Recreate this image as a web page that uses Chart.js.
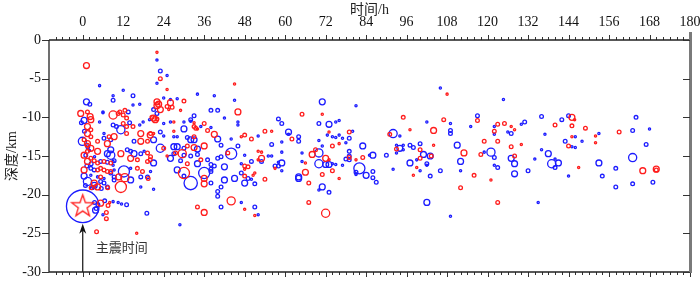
<!DOCTYPE html>
<html>
<head>
<meta charset="utf-8">
<script src="https://cdn.jsdelivr.net/npm/chart.js@4.4.0/dist/chart.umd.min.js"></script>
<style>
  html, body { margin: 0; padding: 0; background: #fff; overflow: hidden; }
  canvas { display: block; }
</style>
</head>
<body>
<canvas id="chart" width="700" height="281"></canvas>
<script>
// time (h), depth (km), magnitude
const xTicks = [0, 12, 24, 36, 48, 60, 72, 84, 96, 108, 120, 132, 144, 156, 168, 180];
const yTicks = [0, -5, -10, -15, -20, -25, -30];
const mainShock = [0, -21.5, 5.0];

const blueEvents = [
  // > 130 h
  [136,-9.9,1.1],[142,-10.3,1.1],[144,-9.8,1.1],[164,-10.0,1.1],[163,-11.7,1.1],[168,-11.5,0.9],[137,-12.2,0.9],
  [153,-12.1,0.9],[146,-12.5,0.9],[143,-13.1,1.1],[148,-13.1,0.9],[145,-13.8,0.9],[146,-13.9,0.9],[167,-13.5,1.1],
  [136,-14.2,0.9],[138,-14.7,1.4],[134,-15.4,0.9],[139,-16.0,1.7],[141,-15.9,1.4],[140,-16.5,1.1],[140,-15.4,0.9],
  [153,-15.9,1.4],[158,-16.6,1.1],[154,-17.6,1.1],[144,-17.6,0.9],[163,-15.2,1.7],[158,-19.0,1.1],[163,-18.6,1.1],
  [169,-18.4,1.1],[135,-21.0,0.9],
  // 112 - 133 h
  [124.7,-7.7,0.9],[117,-9.8,1.1],[115,-11.2,0.9],[122,-11.2,0.9],[122,-12.2,0.9],[126,-11.9,0.9],[127,-12.1,1.1],
  [131,-10.6,1.1],[130,-10.9,0.9],[121,-14.5,1.7],[119,-14.5,0.9],[122,-15.2,1.1],[127,-15.3,1.4],[128,-16.0,1.4],
  [122,-16.2,0.9],[123,-16.5,1.1],[112,-15.7,1.4],[112,-16.9,0.9],[128,-17.3,1.4],[132,-16.9,1.1],
  // 90 - 111 h
  [106,-6.2,0.9],[102,-10.6,0.9],[109,-10.8,0.9],[109,-11.7,1.1],[109,-12.1,1.1],[92,-12.1,1.7],[94,-12.4,0.9],
  [93,-13.6,0.9],[95,-13.6,0.9],[94,-14.0,1.4],[95,-14.2,0.9],[93,-14.6,0.9],[97,-13.6,1.1],[98,-13.9,1.1],
  [100,-13.4,1.1],[101,-14.8,1.4],[103,-15.0,1.4],[99,-15.5,0.9],[97,-15.9,1.4],[100,-16.9,0.9],[102,-16.0,1.1],
  [102,-16.2,0.9],[92,-16.7,0.9],[103,-17.6,1.1],[106,-16.9,1.1],[111,-13.6,1.4],[102,-21.0,1.4],[109,-22.8,0.9],
  // 50 - 90 h
  [71,-8.0,1.4],[81,-8.5,0.9],[58,-10.2,1.1],[59,-10.8,1.1],[70,-10.8,1.1],[73,-10.9,1.4],[75,-10.6,0.9],
  [76,-10.4,0.9],[61,-11.9,1.4],[61,-12.2,0.9],[52,-12.4,0.9],[64,-12.5,1.1],[64,-13.1,1.1],[72.5,-12.3,0.9],
  [74,-12.5,0.9],[75,-12.6,0.9],[76,-12.3,0.9],[80,-11.8,0.9],[79,-12.7,1.1],[77,-12.7,0.9],[78,-13.3,0.9],
  [56,-13.5,1.1],[59,-13.2,0.9],[70,-13.0,0.9],[71,-13.7,0.9],[83,-13.7,1.4],[79,-14.4,1.1],[59,-14.5,0.9],
  [56,-15.0,0.9],[70,-14.6,1.7],[65,-14.6,0.9],[50,-15.7,1.1],[53,-15.7,1.1],[55,-15.0,0.9],[59,-15.9,1.4],
  [58,-15.8,0.9],[57,-16.3,1.1],[58,-16.3,1.1],[59,-16.9,0.9],[65,-15.7,0.9],[70,-16.0,1.7],[72,-16.1,1.4],
  [73,-16.1,1.4],[74,-16.0,0.9],[75,-16.1,0.9],[77,-16.2,0.9],[78,-15.4,1.1],[79,-15.5,1.1],[79,-15.0,1.1],
  [85,-14.9,0.9],[86,-14.9,1.4],[82,-16.6,2.1],[81,-17.1,1.1],[84,-17.5,1.4],[81,-17.4,0.9],[86,-17.0,1.1],
  [86,-17.8,1.1],[87,-18.4,1.1],[90,-14.9,1.1],[64,-17.7,1.4],[64,-17.9,1.4],[71,-19.0,1.4],[70,-19.4,0.9],
  [73,-19.7,1.1],[51,-18.6,1.1],[50,-18.0,0.9],[51,-21.6,1.1],[52,-22.6,0.9],
  // 20 - 50 h
  [22,-2.6,0.9],[23,-4.0,1.1],[25,-4.6,0.9],[22,-5.6,0.9],[34,-7.0,0.9],[39,-7.2,0.9],[45,-7.8,0.9],[28,-7.6,0.9],
  [26,-7.7,0.9],[24,-7.5,0.9],[21,-9.0,1.1],[38,-9.1,1.1],[40,-9.1,1.1],[33,-9.8,1.1],[42,-10.1,0.9],[22,-9.5,1.1],
  [26,-10.6,0.9],[30,-10.6,0.9],[32,-10.5,0.9],[24,-10.8,0.9],[32,-10.3,1.1],[35,-11.2,0.9],[30,-11.5,1.4],
  [38,-11.3,0.9],[23,-11.9,1.1],[46,-11.0,0.9],[46,-10.6,0.9],[44,-12.8,0.9],[21,-12.9,1.4],[24,-12.4,0.9],
  [27,-12.5,0.9],[28,-12.5,0.9],[31,-12.6,1.1],[32,-12.9,1.4],[33,-12.9,1.4],[40,-12.8,1.4],[23,-14.0,1.7],
  [27,-13.8,1.4],[28,-13.8,1.4],[30,-14.0,1.1],[34,-14.1,1.4],[41,-13.6,1.1],[46,-13.7,1.1],[44,-14.7,2.1],
  [48,-14.9,0.9],[41,-15.1,1.1],[40,-15.3,1.1],[27,-14.7,1.1],[30,-14.9,1.1],[32,-15.0,1.1],[34,-14.8,1.1],
  [26,-15.3,1.4],[21,-15.9,1.4],[29,-15.6,1.1],[34,-16.0,1.4],[37,-15.5,1.1],[38,-16.1,1.1],[38,-16.7,1.1],
  [39,-16.3,1.1],[38,-17.0,1.1],[42,-16.4,1.4],[47,-16.0,0.9],[28,-16.8,1.4],[30,-17.6,1.1],[32,-18.5,2.4],
  [36,-17.2,2.1],[38,-18.5,1.1],[42,-18.1,1.4],[45,-17.9,1.4],[48,-18.5,1.4],[47,-17.2,1.1],[49,-17.9,1.1],
  [41,-19.0,1.1],[40,-19.6,1.1],[40,-20.2,1.1],[21,-19.3,0.9],[47,-21.0,0.9],[41,-21.6,1.1],[28.8,-23.9,0.9],
  // 0 - 20 h
  [5,-5.9,0.9],[9,-7.2,0.9],[12,-6.5,0.9],[14.9,-7.2,1.1],[16.9,-8.3,0.9],[14.9,-8.4,0.9],[1.1,-8.0,1.4],
  [2.1,-8.3,1.1],[6,-9.4,0.9],[0.4,-10.4,1.4],[5,-10.6,0.9],[9,-11.0,1.1],[10,-11.2,1.1],[13.9,-10.7,1.1],
  [16.9,-11.0,0.9],[17.9,-10.6,0.9],[19.8,-10.3,0.9],[-0.1,-13.1,1.7],[11.3,-11.6,1.7],[6.3,-12.1,0.9],
  [6.3,-12.7,1.1],[15.2,-13.1,1.1],[8.3,-12.9,1.1],[8.3,-14.2,1.4],[7.3,-14.7,1.4],[8.3,-14.9,1.7],
  [13.2,-14.2,1.1],[14.2,-14.4,1.1],[15.2,-14.7,1.4],[17.2,-14.7,1.1],[18.2,-14.4,0.9],[9.3,-16.8,0.9],
  [12.2,-17.0,2.1],[14.2,-16.6,0.9],[17.2,-17.7,1.1],[19.2,-17.7,1.1],[20.1,-17.0,0.9],[2.4,-17.5,0.9],
  [4.4,-17.7,0.9],[6.3,-17.9,0.9],[8.3,-17.2,1.1],[9.3,-17.7,1.1],[1.4,-18.3,1.7],[5.3,-18.3,1.1],[6.3,-18.5,1.1],
  [9.3,-18.1,1.1],[14.2,-18.1,1.4],[17.2,-19.0,0.9],[2.4,-16.6,1.1],[3.4,-16.8,1.1],[-0.4,-10.7,1.1],
  [0.5,-11.8,1.1],[1.5,-13.8,1.1],[2.0,-14.3,0.9],[3.5,-15.1,0.9],[2.5,-16.0,1.1],[1.2,-16.3,1.1],[0.8,-18.8,1.1],
  [2.8,-19.1,1.1],[3.5,-18.9,0.9],[3.4,-18.8,1.4],[0.4,-17.6,1.4],[0.9,-14.9,1.1],[5.5,-19.2,1.1],[7.3,-19.0,1.1],
  [9,-15.7,0.9],[9,-16.2,0.9],[5.3,-15.7,1.1],[7.3,-15.8,1.1],[9.3,-15.6,1.1],[13.5,-9.3,1.1],[9,-7.8,1.1],
  [6,-9.3,0.9],
  // around main shock
  [3.5,-21.0,1.1],[4.5,-21.3,1.1],[4.0,-21.8,1.1],[3.8,-22.0,1.4],[6.5,-20.8,1.1],[9,-20.9,0.9],[10.5,-21.0,0.9],
  [11.5,-21.2,0.9],[13,-21.3,1.1],[6,-22.6,0.9],[19,-22.4,1.1]
];

const redEvents = [
  // > 112 h
  [145,-10.0,1.4],[145.8,-10.3,0.9],[140,-11.0,1.1],[145,-11.1,1.1],[149,-11.4,1.1],[159,-11.9,1.1],[152,-12.4,0.9],
  [145,-12.5,0.9],[152,-13.3,0.9],[144,-13.7,1.1],[147,-16.5,0.9],[166,-16.9,1.4],[170,-16.7,1.4],[170,-16.8,1.1],
  [117,-10.4,1.1],[122,-11.8,1.1],[123,-10.9,1.1],[125,-10.8,1.1],[127,-11.2,0.9],[128,-11.6,0.9],[119,-13.1,1.1],
  [123,-13.1,1.1],[113,-14.6,1.4],[118,-14.8,1.1],[127,-13.8,1.1],[130,-13.5,0.9],[128,-15.0,1.1],[116,-17.5,1.1],
  [112,-19.1,1.1],[121,-18.1,0.9],[123,-21.0,1.1],
  // 90 - 111 h
  [108,-7.0,0.9],[95,-10.0,1.1],[107,-10.3,1.1],[104,-11.7,1.4],[97,-11.6,0.9],[93,-14.1,1.1],[100,-14.2,1.1],
  [100,-15.3,1.1],[103.3,-15.0,1.1],[104,-13.6,0.9],[99,-16.5,0.9],[98,-17.5,0.9],[91,-12.2,1.1],
  // 50 - 90 h
  [65,-9.6,1.1],[71,-9.6,0.9],[54,-11.8,1.1],[56,-11.8,0.9],[50,-12.8,1.1],[62,-12.8,1.1],[73,-11.9,0.9],
  [79,-11.9,1.1],[76,-13.4,0.9],[74,-13.7,1.1],[52,-14.4,0.9],[53,-14.5,0.9],[69,-14.2,1.1],[68,-14.8,1.4],
  [72,-15.3,1.4],[73,-15.5,0.9],[53,-15.3,1.4],[52,-15.5,0.9],[66,-15.9,0.9],[79,-15.2,1.1],[81,-15.5,0.9],
  [83,-15.2,1.1],[57,-16.6,0.9],[66,-17.1,1.4],[67,-18.5,1.1],[71,-17.4,1.1],[74,-16.9,1.1],[76,-17.9,0.9],
  [54,-18.0,1.1],[50.5,-17.5,0.9],[67,-21.0,1.1],[72,-22.4,1.7],[51,-22.7,0.9],[47,-12.5,0.9],
  // 20 - 50 h
  [22,-1.6,0.9],[23,-5.0,1.1],[45,-5.7,0.9],[25,-6.4,0.9],[30,-7.9,1.1],[22,-8.0,1.4],[22.5,-8.3,1.4],[22,-8.5,1.4],
  [26,-8.1,1.4],[25,-8.6,1.1],[26.5,-8.7,1.1],[23,-9.0,1.4],[25.5,-9.0,0.9],[29,-9.1,0.9],[46,-9.3,1.4],
  [21,-10.1,1.4],[21.5,-10.3,1.4],[20.5,-10.0,1.1],[22,-10.2,1.1],[27,-10.6,0.9],[33,-10.7,0.9],[36,-10.8,1.1],
  [34,-11.5,0.9],[33,-11.2,1.1],[33.5,-11.4,1.1],[37,-11.7,1.1],[39,-12.2,1.4],[27,-11.8,0.9],[21,-12.1,0.9],
  [48,-12.3,1.1],[20,-12.3,1.4],[33,-12.5,1.1],[24,-14.0,1.1],[31,-13.7,1.1],[33,-13.9,1.4],[36,-13.7,1.4],
  [43,-14.6,1.1],[29.5,-14.7,1.7],[27.5,-14.6,1.1],[35,-15.5,1.1],[25,-15.0,0.9],[20,-15.5,1.1],[31,-16.0,1.1],
  [48,-16.3,1.1],[49,-16.4,1.1],[48,-16.7,0.9],[30,-17.2,2.1],[36,-17.9,1.4],[36,-18.6,1.4],[48,-17.6,1.1],
  [51,-17.2,0.9],[44,-20.8,1.7],[34,-21.6,1.1],[36,-22.3,1.4],[48,-21.9,0.9],
  // 0 - 20 h
  [-0.6,-9.5,1.4],[1.4,-9.3,1.1],[2.2,-9.9,1.4],[2.4,-10.3,1.4],[9,-9.7,1.7],[11,-9.3,1.1],[12,-9.7,1.1],
  [13,-10.1,1.1],[12,-10.8,1.1],[13,-11.2,1.1],[14.9,-11.2,1.1],[1.4,-11.2,1.4],[2.4,-11.6,1.1],[1.4,-12.1,1.4],
  [2.4,-12.5,1.1],[0.4,-12.9,1.1],[1.4,-13.4,1.4],[13,-12.1,1.1],[7.8,-12.5,1.1],[9.3,-12.5,1.4],[20.1,-12.1,1.1],
  [17.2,-12.1,1.4],[17.2,-13.1,1.4],[19.2,-13.1,1.1],[4.4,-13.1,1.1],[1.4,-13.6,1.1],[2.4,-14.0,1.4],
  [1.4,-14.4,1.1],[0.4,-14.9,1.4],[2.4,-15.3,1.1],[1.4,-15.7,1.4],[7.3,-13.4,1.4],[4.4,-14.4,1.4],[11.3,-14.7,1.4],
  [14.2,-15.3,1.4],[19.2,-14.6,1.1],[20.1,-15.1,1.1],[16.2,-15.5,1.1],[19.2,-15.7,1.1],[3.4,-15.6,1.1],
  [4.4,-15.9,1.1],[6.3,-15.7,1.1],[8.3,-15.9,1.1],[0.4,-16.8,1.4],[4.4,-16.8,1.1],[5.3,-16.6,1.1],[6.3,-16.8,1.1],
  [7.3,-17.0,1.1],[8.3,-17.0,1.1],[16.2,-16.6,1.1],[17.7,-17.0,1.1],[5.3,-17.7,1.1],[3.4,-18.5,1.4],
  [4.4,-19.0,1.4],[11.3,-19.0,2.1],[19.4,-17.9,1.1],[2.5,-19.1,1.1],[7.4,-19.1,1.1],[10.7,-17.7,1.4],
  [12.5,-17.8,1.7],[1.1,-3.3,1.4],[10.5,-9.5,1.1],[12.5,-9.1,1.1],
  // around main shock
  [5.3,-21.1,1.4],[7,-22.3,1.1],[7,-23.1,1.1],[4.1,-24.8,1.1],[16,-25.0,0.9],[8,-21.0,0.9],[7.5,-21.4,1.1]
];

const BLUE = '#1c1cff';
const RED = '#ff1c1c';
const SERIF = '"Liberation Serif", "Noto Sans CJK SC", serif';

function radiusOf(m) { return Math.max(1, 3.7 * (m - 0.6)); }
function toPoints(list) { return list.map(e => ({ x: e[0], y: e[1], m: e[2] })); }

// five-pointed star outline for the main shock
function starImage(rOut) {
  const c = document.createElement('canvas');
  const s = Math.ceil(rOut * 2 + 4);
  c.width = s; c.height = s;
  const g = c.getContext('2d');
  const rIn = rOut * 0.4;
  g.beginPath();
  for (let i = 0; i < 10; i++) {
    const r = i % 2 ? rIn : rOut;
    const a = -Math.PI / 2 + i * Math.PI / 5;
    const px = s / 2 + r * Math.cos(a), py = s / 2 + r * Math.sin(a);
    if (i === 0) g.moveTo(px, py); else g.lineTo(px, py);
  }
  g.closePath();
  g.strokeStyle = RED;
  g.lineWidth = 1.3;
  g.stroke();
  return c;
}

const frame = {
  id: 'frame',
  afterDatasetsDraw(chart) {
    const { ctx, chartArea: a, scales: { x, y } } = chart;
    // arrow to main shock
    const ax = x.getPixelForValue(mainShock[0]);
    const tipY = y.getPixelForValue(mainShock[1]) + 17.5;
    ctx.save();
    ctx.strokeStyle = '#111';
    ctx.fillStyle = '#111';
    ctx.lineWidth = 1.2;
    ctx.beginPath();
    ctx.moveTo(ax, a.bottom);
    ctx.lineTo(ax, tipY + 6);
    ctx.stroke();
    ctx.beginPath();
    ctx.moveTo(ax, tipY);
    ctx.lineTo(ax - 3.5, tipY + 10);
    ctx.lineTo(ax, tipY + 7);
    ctx.lineTo(ax + 3.5, tipY + 10);
    ctx.closePath();
    ctx.fill();
    ctx.font = '13px "Noto Sans CJK SC", sans-serif';
    ctx.fillStyle = '#333';
    ctx.textBaseline = 'middle';
    ctx.fillText('主震时间', ax + 13, y.getPixelForValue(-26.8));
    ctx.restore();
  },
  afterDraw(chart) {
    const { ctx, chartArea: a, scales: { x, y } } = chart;
    ctx.save();
    ctx.strokeStyle = '#333';
    ctx.lineWidth = 1;
    ctx.beginPath();
    // top / bottom minor + major ticks
    for (let v = -8; v <= 180; v += 2) {
      const px = Math.round(x.getPixelForValue(v)) + 0.5;
      const len = v % 12 === 0 ? 5 : 3;
      ctx.moveTo(px, a.top); ctx.lineTo(px, a.top - len);
      ctx.moveTo(px, a.bottom); ctx.lineTo(px, a.bottom + len);
    }
    // left ticks (outward)
    yTicks.forEach(v => {
      const py = Math.round(y.getPixelForValue(v)) + 0.5;
      ctx.moveTo(a.left, py); ctx.lineTo(a.left - 7, py);
    });
    ctx.stroke();
    // frame lines
    ctx.lineWidth = 1.3;
    ctx.strokeStyle = '#222';
    ctx.beginPath();
    ctx.moveTo(a.left, a.top); ctx.lineTo(a.right, a.top);
    ctx.moveTo(a.left, a.top); ctx.lineTo(a.left, a.bottom);
    ctx.moveTo(a.left, a.bottom); ctx.lineTo(a.right, a.bottom);
    ctx.stroke();
    // right axis, thick grey, inward ticks
    ctx.strokeStyle = '#7a7a7a';
    ctx.lineWidth = 3;
    ctx.beginPath();
    ctx.moveTo(a.right + 0.5, a.top - 8); ctx.lineTo(a.right + 0.5, a.bottom + 1);
    ctx.stroke();
    ctx.lineWidth = 1.2;
    ctx.strokeStyle = '#333';
    ctx.beginPath();
    yTicks.forEach(v => {
      const py = Math.round(y.getPixelForValue(v)) + 0.5;
      ctx.moveTo(a.right, py); ctx.lineTo(a.right - 7, py);
    });
    ctx.stroke();
    ctx.restore();
  }
};

const eventDataset = (list, color) => ({
  data: toPoints(list),
  borderColor: color,
  backgroundColor: 'rgba(0,0,0,0)',
  borderWidth: 1.3,
  pointRadius: c => radiusOf(c.raw.m),
  pointHoverRadius: c => radiusOf(c.raw.m),
  clip: false
});

// the end labels would otherwise push the plot frame inwards
function noOverflow(s) {
  s.paddingLeft = 0; s.paddingRight = 0; s.paddingTop = 0; s.paddingBottom = 0;
}

new Chart(document.getElementById('chart'), {
  type: 'scatter',
  data: {
    datasets: [
      { data: [{ x: mainShock[0], y: mainShock[1] }], pointStyle: starImage(11.5), pointRadius: 12, clip: false },
      eventDataset(redEvents, RED),
      eventDataset(blueEvents, BLUE),
      {
        data: [{ x: mainShock[0], y: mainShock[1], m: mainShock[2] }],
        borderColor: BLUE, backgroundColor: 'rgba(0,0,0,0)', borderWidth: 1.3,
        pointRadius: c => radiusOf(c.raw.m), clip: false
      }
    ]
  },
  options: {
    responsive: false,
    animation: false,
    devicePixelRatio: 1,
    layout: { autoPadding: false, padding: { left: 0, top: 0, right: 10, bottom: 9 } },
    plugins: { legend: { display: false }, tooltip: { enabled: false } },
    scales: {
      x: {
        type: 'linear',
        position: 'top',
        min: -10,
        max: 180,
        afterBuildTicks: s => { s.ticks = xTicks.map(v => ({ value: v })); },
        afterFit: s => { s.height = 40; noOverflow(s); },
        grid: { display: true, drawOnChartArea: false, drawTicks: false, color: 'rgba(0,0,0,0)' },
        border: { display: false },
        ticks: { padding: 9, color: '#111', font: { family: SERIF, size: 14 }, maxRotation: 0 },
        title: { display: true, text: '时间/h', color: '#222', padding: { top: 2, bottom: 0 },
                 font: { family: SERIF, size: 14 } }
      },
      y: {
        type: 'linear',
        min: -30,
        max: 0,
        afterBuildTicks: s => { s.ticks = yTicks.map(v => ({ value: v })); },
        afterFit: s => { s.width = 49; noOverflow(s); },
        grid: { display: true, drawOnChartArea: false, drawTicks: false, color: 'rgba(0,0,0,0)' },
        border: { display: false },
        ticks: { padding: 8, color: '#111', font: { family: SERIF, size: 14 } },
        title: { display: true, text: '深度/km', color: '#222', padding: { top: 4, bottom: 0 },
                 font: { family: SERIF, size: 14 } }
      }
    }
  },
  plugins: [frame]
});
</script>
</body>
</html>
